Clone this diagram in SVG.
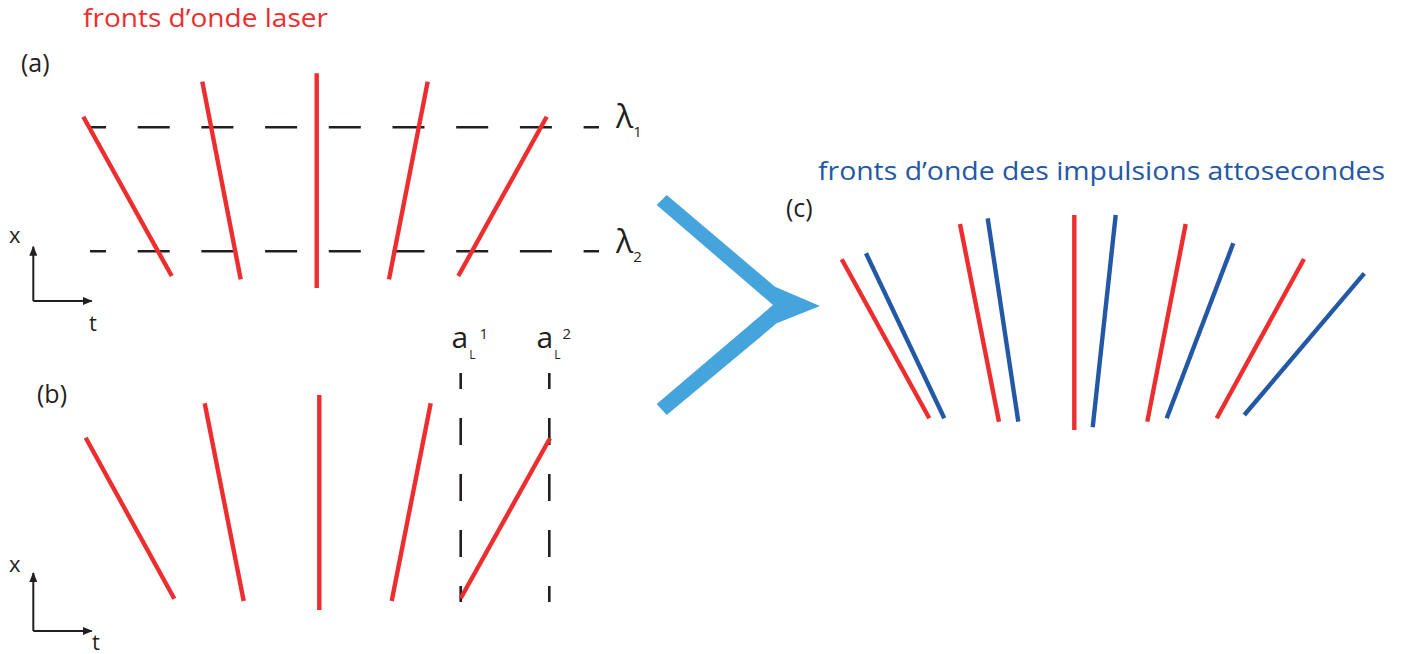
<svg xmlns="http://www.w3.org/2000/svg" width="1405" height="654" viewBox="0 0 1405 654">
<defs>
<style>
.red{stroke:#ee2e2e;stroke-width:4.4;fill:none}
.blue{stroke:#2358a6;stroke-width:4.4;fill:none}
.hdash{stroke:#231f20;stroke-width:2.6;fill:none;stroke-dasharray:32 31.7;stroke-dashoffset:16}
.vdash{stroke:#231f20;stroke-width:2.6;fill:none;stroke-dasharray:27 29;stroke-dashoffset:11}
.axis{stroke:#231f20;stroke-width:2;fill:none}
.t{font-family:"Open Sans","Liberation Sans",sans-serif;fill:#231f20}
</style>
<marker id="ah" viewBox="0 0 10 8" refX="9" refY="4" markerWidth="10" markerHeight="8" markerUnits="userSpaceOnUse" orient="auto">
<path d="M0,0 L10,4 L0,8 z" fill="#231f20"/>
</marker>
</defs>
<rect width="1405" height="654" fill="#ffffff"/>

<text class="t" x="83" y="27" font-size="26" style="fill:#ee2e2e" textLength="245" lengthAdjust="spacingAndGlyphs">fronts d’onde laser</text>
<text class="t" x="818" y="180" font-size="26" style="fill:#2358a6" textLength="567" lengthAdjust="spacingAndGlyphs">fronts d’onde des impulsions attosecondes</text>

<g id="panel-a">
<text class="t" x="21" y="72" font-size="25">(a)</text>
<line class="hdash" x1="90" y1="127.3" x2="599" y2="127.3"/>
<line class="hdash" x1="90" y1="251.3" x2="599" y2="251.3"/>
<line class="red" x1="83.3" y1="116.7" x2="171.7" y2="276"/>
<line class="red" x1="202.3" y1="81.7" x2="240.7" y2="279.3"/>
<line class="red" x1="316.7" y1="73.3" x2="316.7" y2="288"/>
<line class="red" x1="427.7" y1="81.7" x2="389" y2="279.3"/>
<line class="red" x1="546.7" y1="116.7" x2="458.3" y2="276"/>
<text class="t" x="616" y="128" font-size="32">λ<tspan font-size="15" dy="9">1</tspan></text>
<text class="t" x="616" y="253" font-size="32">λ<tspan font-size="15" dy="9">2</tspan></text>
</g>

<g id="axes-a">
<line class="axis" x1="33.3" y1="301" x2="33.3" y2="246.7" marker-end="url(#ah)"/>
<line class="axis" x1="33.3" y1="301" x2="91.7" y2="301" marker-end="url(#ah)"/>
<text class="t" x="9" y="243" font-size="22">x</text>
<text class="t" x="89" y="331" font-size="22">t</text>
</g>

<g id="panel-b">
<text class="t" x="37" y="403" font-size="25">(b)</text>
<line class="vdash" x1="460.7" y1="373" x2="460.7" y2="602"/>
<line class="vdash" x1="549.3" y1="373" x2="549.3" y2="602"/>
<line class="red" x1="85.7" y1="437.7" x2="174.3" y2="598.7"/>
<line class="red" x1="204.7" y1="403.3" x2="243.7" y2="601"/>
<line class="red" x1="319.3" y1="395" x2="319.3" y2="610"/>
<line class="red" x1="430.7" y1="403.3" x2="391.7" y2="601"/>
<line class="red" x1="550" y1="438.3" x2="460.7" y2="598.3"/>
<text class="t" x="451.5" y="348" font-size="30">a<tspan font-size="12" dy="11" dx="1">L</tspan><tspan font-size="15" dy="-20" dx="4">1</tspan></text>
<text class="t" x="536.5" y="348" font-size="30">a<tspan font-size="12" dy="11" dx="1">L</tspan><tspan font-size="15" dy="-20" dx="2">2</tspan></text>
</g>

<g id="axes-b">
<line class="axis" x1="33.3" y1="631" x2="33.3" y2="573" marker-end="url(#ah)"/>
<line class="axis" x1="33.3" y1="631" x2="91.7" y2="631" marker-end="url(#ah)"/>
<text class="t" x="9" y="572" font-size="22">x</text>
<text class="t" x="92" y="650" font-size="22">t</text>
</g>

<g id="chevron">
<polygon points="666.7,195 775,286.7 820,306 776.7,323.3 666.7,415 656.7,404 773,305 656.7,205" fill="#44a4db"/>
</g>

<g id="panel-c">
<text class="t" x="786" y="217" font-size="25">(c)</text>
<line class="red" x1="841.7" y1="259.3" x2="929.3" y2="418.3"/>
<line class="blue" x1="866" y1="253.3" x2="944.3" y2="418.3"/>
<line class="red" x1="960" y1="224" x2="999" y2="421.7"/>
<line class="blue" x1="987.7" y1="218.3" x2="1018.3" y2="421.7"/>
<line class="red" x1="1074.3" y1="215" x2="1074.3" y2="430"/>
<line class="blue" x1="1115.7" y1="215" x2="1092.7" y2="427.3"/>
<line class="red" x1="1185.7" y1="224" x2="1147.3" y2="421.7"/>
<line class="blue" x1="1233.3" y1="243.3" x2="1166.7" y2="418.3"/>
<line class="red" x1="1304" y1="259" x2="1216.7" y2="418.3"/>
<line class="blue" x1="1364.3" y1="273.3" x2="1244.3" y2="415"/>
</g>
</svg>
